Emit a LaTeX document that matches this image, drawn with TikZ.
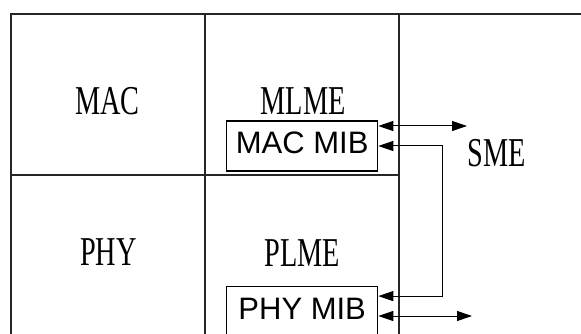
\documentclass[tikz,border=0pt]{standalone}
\usepackage{fontspec}
\newfontfamily\condserif[FakeStretch=0.69]{Liberation Serif}
\newfontfamily\mibsans{Liberation Sans}
\usetikzlibrary{arrows.meta}
\begin{document}
\begin{tikzpicture}[x=1pt,y=-1pt,
  grid/.style={line width=1.7pt,black!85},
  layer/.style={inner sep=0pt,anchor=base,font=\condserif\fontsize{41}{41}\selectfont},
  mib/.style={draw,line width=1.2pt,minimum width=151pt,minimum height=50pt,inner sep=0pt,
    text depth=6pt,font=\mibsans\fontsize{31}{31}\selectfont},
  link/.style={line width=1pt,{Triangle[length=15pt,width=10pt]}-{Triangle[length=15pt,width=10pt]}}]
\useasboundingbox (0,0) rectangle (581,334);
% grid
\coordinate (tl) at (11,14);
\coordinate (tr) at (581,14);
\coordinate (m1) at (205,14);
\coordinate (m2) at (399,14);
\coordinate (bl) at (11,334);
\coordinate (b1) at (205,334);
\coordinate (b2) at (399,334);
\coordinate (hl) at (11,175);
\coordinate (hr) at (399,175);
\draw[grid] (tr) -- (tl) -- (bl);
\draw[grid] (m1) -- (b1);
\draw[grid] (m2) -- (b2);
\draw[grid] (hl) -- (hr);
% labels
\node[layer] (mac) at (107.5,115) {MAC};
\node[layer] (phy) at (108.5,265) {PHY};
\node[layer] (mlme) at (303,115) {MLME};
\node[layer] (plme) at (302.5,266.5) {PLME};
\node[layer] (sme) at (496.5,166.5) {SME};
% MIB boxes
\node[mib] (macmib) at (302.2,146) {MAC MIB};
\node[mib] (phymib) at (302.2,311.7) {PHY MIB};
% connectors
\coordinate (sme1) at (467,126);
\coordinate (sme2) at (472,316);
\coordinate (bend) at (442,0);
\draw[link] (macmib.east |- sme1) -- (sme1);
\draw[link] (macmib.east) -- (macmib.east -| bend) |- ([yshift=-10pt]phymib.north east);
\draw[link] (phymib.east |- sme2) -- (sme2);
\end{tikzpicture}
\end{document}
